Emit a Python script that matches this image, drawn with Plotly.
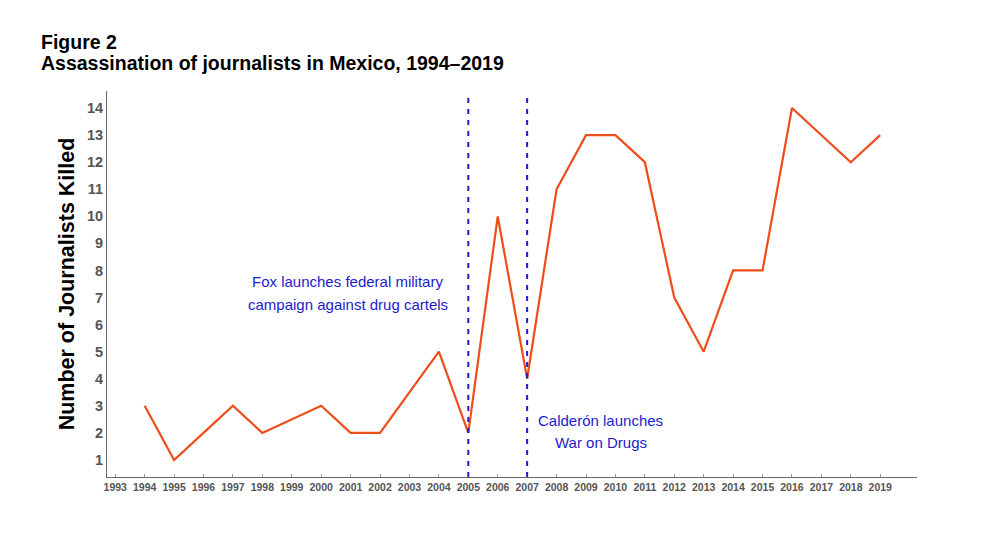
import plotly.graph_objects as go

years = [1994, 1995, 1996, 1997, 1998, 2000, 2001, 2002, 2004, 2005, 2006, 2007,
         2008, 2009, 2010, 2011, 2012, 2013, 2014, 2015, 2016, 2017, 2018, 2019]
killed = [3, 1, 2, 3, 2, 3, 2, 2, 5, 2, 10, 4,
          11, 13, 13, 12, 7, 5, 8, 8, 14, 13, 12, 13]
tick_years = list(range(1993, 2020))
y_ticks = list(range(1, 15))
event_years = [2005, 2007]

BLUE = "#1c1ccc"
GRAY = "#555555"
FONT = "Liberation Sans, Arial"

fig = go.Figure()
fig.add_trace(go.Scatter(x=years, y=killed, mode="lines",
                         line=dict(color="#ee4d1a", width=2.2),
                         hoverinfo="x+y", showlegend=False))

for ey in event_years:
    fig.add_shape(type="line", xref="x", yref="paper", x0=ey, x1=ey, y0=0, y1=0.995,
                  line=dict(color=BLUE, width=2, dash="5px,6px"))

ann = [
    ("Fox launches federal military", 2000.9, 7.6),
    ("campaign against drug cartels", 2000.9, 6.75),
    ("Calderón launches", 2009.5, 2.45),
    ("War on Drugs", 2009.5, 1.65),
]
for txt, ax, ay in ann:
    fig.add_annotation(x=ax, y=ay, xref="x", yref="y", text=txt, showarrow=False,
                       font=dict(family=FONT, size=15, color=BLUE))

pw, ph = 810, 386
fig.add_annotation(xref="paper", yref="paper", x=-68 / pw, y=1 + (91 - 42) / ph,
                   text="<b>Figure 2</b>", showarrow=False, xanchor="left", yanchor="middle",
                   font=dict(family=FONT, size=19.5, color="black"))
fig.add_annotation(xref="paper", yref="paper", x=-68 / pw, y=1 + (91 - 63) / ph,
                   text="<b>Assassination of journalists in Mexico, 1994–2019</b>",
                   showarrow=False, xanchor="left", yanchor="middle",
                   font=dict(family=FONT, size=19.5, color="black"))

fig.update_layout(
    width=992, height=551,
    margin=dict(l=99, r=83, t=83, b=82, autoexpand=False),
    plot_bgcolor="white", paper_bgcolor="white",
    xaxis=dict(range=[1992.72, 2020.25], tickvals=tick_years,
               ticktext=[f"<b>{t}</b>" for t in tick_years],
               tickfont=dict(family=FONT, size=10.5, color=GRAY),
               showgrid=False, zeroline=False, showline=True, linecolor="#666666",
               linewidth=1, ticks="inside", ticklen=3, tickcolor="#999999",
               automargin=False),
    yaxis=dict(range=[0.37, 14.63], tickvals=y_ticks,
               ticktext=[f"<b>{t}</b>" for t in y_ticks],
               tickfont=dict(family=FONT, size=14.5, color=GRAY),
               showgrid=False, zeroline=False, showline=True, linecolor="#666666",
               linewidth=1, ticks="", automargin=False,
               title=dict(text="<b>Number of Journalists Killed</b>", standoff=6,
                          font=dict(family=FONT, size=21.5, color="black"))),
)

fig.write_html("out.html")
